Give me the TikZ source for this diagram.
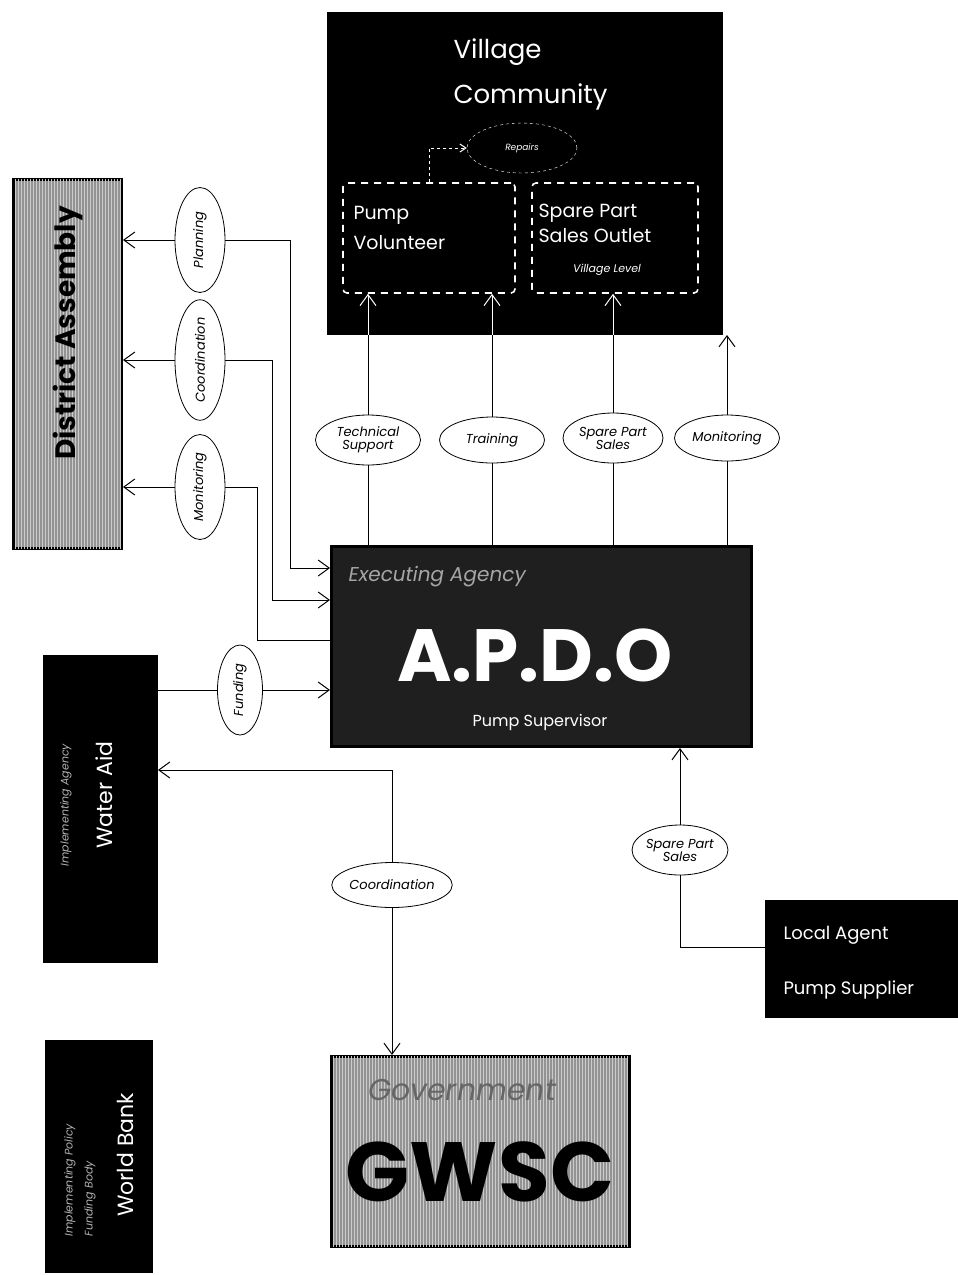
\documentclass[tikz,border=0pt]{standalone}
\usepackage{fontspec}
\setmainfont{Poppins}
\usetikzlibrary{arrows.meta,shapes.geometric,patterns}

\tikzset{
  darkbox/.style={draw=black, line width=3pt, fill=black, text=white},
  stripebox/.style={draw=black, line width=3pt, fill=gray!85,
    postaction={pattern=vertical lines, pattern color=gray!40}},
  flowlabel/.style={ellipse, draw, line width=0.8pt, fill=white, inner sep=0pt,
    font=\fontsize{13}{13}\selectfont\itshape, align=center},
  dashbox/.style={draw=white, line width=1.6pt, dash pattern=on 7pt off 6pt, rounded corners=4pt},
  flow/.style={line width=0.8pt},
  whitetext/.style={text=white, font=\fontsize{19}{25}\selectfont, align=left},
}

\begin{document}
\begin{tikzpicture}[x=1pt, y=-1pt, >={Straight Barb[length=11pt,width=16pt,line width=1pt]}]
    \useasboundingbox (0,0) rectangle (958,1275);

    % village community
    \node[darkbox, minimum width=393pt, minimum height=320pt, anchor=north west] (village) at (327,12) {};
    \node[text=white, font=\fontsize{26}{28}\selectfont, anchor=west] (vtitle) at (450,52) {Village};
    \node[text=white, font=\fontsize{26}{28}\selectfont, anchor=west] (vcomm) at (450,97) {Community};
    \node[ellipse, draw=white, dashed, minimum width=110pt, minimum height=50pt, text=white,
      font=\fontsize{9}{10}\selectfont\itshape] (repairs) at (522,148) {Repairs};
    \node[dashbox, minimum width=172pt, minimum height=110pt] (pvbox) at (429,238) {};
    \node[dashbox, minimum width=166pt, minimum height=110pt] (spbox) at (615,238) {};
    \node[whitetext, font=\fontsize{19}{30}\selectfont, anchor=west] (pvtext) at (350,228) {Pump\\Volunteer};
    \node[whitetext, anchor=west] (sptext) at (535,223) {Spare Part\\Sales Outlet};
    \node[text=white, font=\fontsize{11}{12}\selectfont\itshape] (vlevel) at (607,270) {Village Level};
    \draw[white, line width=1pt, dashed, -{Straight Barb[length=6pt,width=8pt]}] (pvbox.north) |- (repairs.west);

    % executing agency
    \node[darkbox, fill=black!88, minimum width=420pt, minimum height=200pt, anchor=north west] (apdo) at (330,545) {};
    \node[text=gray!70, font=\fontsize{20}{22}\selectfont\itshape, anchor=west] (exec) at (345,577) {Executing Agency};
    \node[text=white, font=\fontsize{74}{76}\selectfont\bfseries] (apdotext) at (535,655) {A.P.D.O};
    \node[text=white, font=\fontsize{16}{18}\selectfont] (superv) at (540,722) {Pump Supervisor};

    % flows up to the village
    \node[flowlabel, minimum width=105pt, minimum height=50pt] (tech) at (368,440) {Technical\\Support};
    \node[flowlabel, minimum width=105pt, minimum height=46pt] (train) at (492,440) {Training};
    \node[flowlabel, minimum width=100pt, minimum height=50pt] (spsale) at (613,438) {Spare Part\\Sales};
    \node[flowlabel, minimum width=105pt, minimum height=46pt] (vmon) at (727,438) {Monitoring};
    \foreach \n/\b in {tech/pvbox, train/pvbox, spsale/spbox} {
      \draw[flow] (apdo.north -| \n.south) -- (\n.south);
      \draw[flow] (\n.north) -- (\n.north |- village.south);
      \draw[flow, white, ->] (\n.north |- village.south) -- (\n.north |- \b.south);
    }
    \draw[flow] (apdo.north -| vmon.south) -- (vmon.south);
    \draw[flow, ->] (vmon.north) -- (vmon.north |- village.south);

    % district assembly
    \node[stripebox, minimum width=108pt, minimum height=369pt, anchor=north west] (da) at (12,178) {};
    \node[font=\fontsize{28}{30}\selectfont\bfseries, rotate=90] (datext) at (68,333) {District Assembly};
    \node[flowlabel, minimum width=50pt, minimum height=105pt] (plan) at (200,240) {\rotatebox{90}{Planning}};
    \node[flowlabel, minimum width=50pt, minimum height=110pt] (coord) at (200,360) {\rotatebox{90}{Coordination}};
    \node[flowlabel, minimum width=50pt, minimum height=105pt] (mon) at (200,487) {\rotatebox{90}{Monitoring}};
    \coordinate (jp) at (290,568);
    \coordinate (jc) at (272,600);
    \coordinate (jm) at (257,640);
    \foreach \n in {plan, coord, mon}
      \draw[flow, ->] (\n.west) -- (\n.west -| da.east);
    \draw[flow, ->] (plan.east) -| (jp) -- (jp -| apdo.west);
    \draw[flow, ->] (coord.east) -| (jc) -- (jc -| apdo.west);
    \draw[flow] (mon.east) -| (jm) -- (jm -| apdo.west);

    % water aid
    \node[darkbox, minimum width=112pt, minimum height=305pt, anchor=north west] (wa) at (43,655) {};
    \node[text=white, rotate=90, font=\fontsize{22}{24}\selectfont] (watext) at (104,795) {Water Aid};
    \node[text=gray!60, rotate=90, font=\fontsize{11}{12}\selectfont\itshape] (wasub) at (66,805) {Implementing Agency};
    \node[flowlabel, minimum width=45pt, minimum height=90pt] (fund) at (240,690) {\rotatebox{90}{Funding}};
    \draw[flow] (wa.east |- fund.west) -- (fund.west);
    \draw[flow, ->] (fund.east) -- (fund.east -| apdo.west);

    % government
    \node[stripebox, minimum width=298pt, minimum height=190pt, anchor=north west] (gwsc) at (330,1055) {};
    \node[text=black!60, font=\fontsize{30}{32}\selectfont\itshape] (govt) at (462,1090) {Government};
    \node[font=\fontsize{84}{86}\selectfont\bfseries] (gwsctext) at (480,1172) {GWSC};
    \node[flowlabel, minimum width=95pt, minimum height=45pt] (gcoord) at (392,885) {Coordination};
    \coordinate (jg) at (392,770);
    \draw[flow, ->] (gcoord.north) -- (jg) -- (jg -| wa.east);
    \draw[flow, ->] (gcoord.south) -- (gcoord.south |- gwsc.north);

    % world bank
    \node[darkbox, minimum width=105pt, minimum height=230pt, anchor=north west] (wb) at (45,1040) {};
    \node[text=white, rotate=90, font=\fontsize{22}{24}\selectfont] (wbtext) at (125,1155) {World Bank};
    \node[text=gray!60, rotate=90, align=left, font=\fontsize{11}{20}\selectfont\itshape] (wbsub) at (80,1180) {Implementing Policy\\Funding Body};

    % local agent
    \node[darkbox, minimum width=190pt, minimum height=115pt, anchor=north west] (la) at (765,900) {};
    \node[whitetext, font=\fontsize{18}{20}\selectfont, anchor=west] (latext) at (780,935) {Local Agent};
    \node[whitetext, font=\fontsize{18}{20}\selectfont, anchor=west] (pstext) at (780,990) {Pump Supplier};
    \node[flowlabel, minimum width=95pt, minimum height=50pt] (lasale) at (680,850) {Spare Part\\Sales};
    \draw[flow] ([yshift=12pt]la.west) -| (lasale.south);
    \draw[flow, ->] (lasale.north) -- (lasale.north |- apdo.south);
\end{tikzpicture}
\end{document}
